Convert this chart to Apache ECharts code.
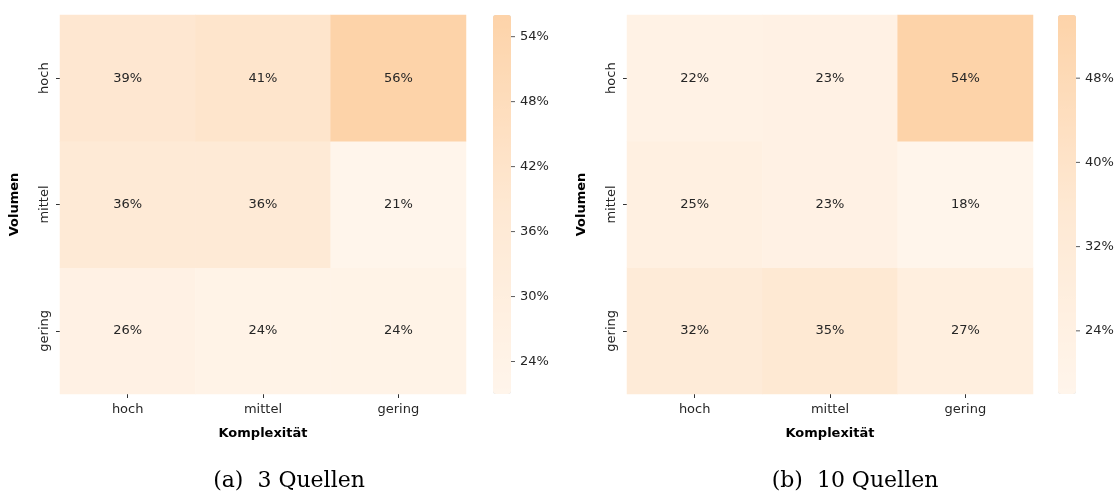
<!DOCTYPE html>
<html>
<head>
<meta charset="utf-8">
<script src="https://cdn.jsdelivr.net/npm/echarts@6/dist/echarts.min.js"></script>
<style>
  html, body { margin: 0; padding: 0; background: #fff; }
  #chart { width: 1120px; height: 491px; }
</style>
</head>
<body>
<div id="chart"></div>
<script>
// Categories (Komplexität on x, Volumen on y, listed bottom to top)
const komplexitaet = ['hoch', 'mittel', 'gering'];
const volumen = ['gering', 'mittel', 'hoch'];

// Share in percent, one row per Volumen level (hoch, mittel, gering), columns = Komplexität
const quellen3 = {
  hoch:   [39, 41, 56],
  mittel: [36, 36, 21],
  gering: [26, 24, 24]
};
const quellen10 = {
  hoch:   [22, 23, 54],
  mittel: [25, 23, 18],
  gering: [32, 35, 27]
};

// Colour bar ticks
const ticks3 = [24, 30, 36, 42, 48, 54];
const ticks10 = [24, 32, 40, 48];

const captions = ['(a)  3 Quellen', '(b)  10 Quellen'];

const palette = ['#fff5eb', '#fee8d2', '#fdd3a9'];
const font = 'DejaVu Sans';
const txt = '#262626';

function toCells(tbl) {
  const out = [];
  volumen.forEach((v, yi) => {
    tbl[v].forEach((val, xi) => out.push([xi, yi, val]));
  });
  return out;
}
function extent(tbl) {
  const all = [].concat(tbl.hoch, tbl.mittel, tbl.gering);
  return [Math.min.apply(null, all), Math.max.apply(null, all)];
}

const panels = [
  { data: quellen3, ticks: ticks3, left: 60, barLeft: 493, captionX: 284 },
  { data: quellen10, ticks: ticks10, left: 627, barLeft: 1058, captionX: 850 }
];
const plotTop = 15, plotH = 379, plotW = 406, barW = 18;

const option = {
  backgroundColor: '#fff',
  animation: false,
  textStyle: { fontFamily: font },
  grid: [],
  xAxis: [],
  yAxis: [],
  visualMap: [],
  series: [],
  title: []
};

panels.forEach((p, i) => {
  const ext = extent(p.data);
  // heatmap grid
  option.grid.push({ left: p.left, top: plotTop, width: plotW, height: plotH });
  option.xAxis.push({
    type: 'category', gridIndex: 2 * i, data: komplexitaet,
    name: 'Komplexität', nameLocation: 'middle', nameGap: 33,
    nameTextStyle: { fontWeight: 'bold', fontSize: 13, color: '#000', fontFamily: font },
    axisLine: { show: false },
    axisTick: { show: true, alignWithLabel: true, length: 4, lineStyle: { color: '#333' } },
    axisLabel: { fontSize: 13, color: txt, margin: 9, fontFamily: font },
    splitLine: { show: false }
  });
  option.yAxis.push({
    type: 'category', gridIndex: 2 * i, data: volumen,
    name: 'Volumen', nameLocation: 'middle', nameGap: 39, nameRotate: 90,
    nameTextStyle: { fontWeight: 'bold', fontSize: 13, color: '#000', fontFamily: font },
    axisLine: { show: false },
    axisTick: { show: true, alignWithLabel: true, length: 4, lineStyle: { color: '#333' } },
    axisLabel: { fontSize: 13, color: txt, rotate: 90, margin: 9, fontFamily: font },
    splitLine: { show: false }
  });
  option.visualMap.push({
    type: 'continuous', seriesIndex: 2 * i, min: ext[0], max: ext[1],
    calculable: false, realtime: false,
    orient: 'vertical', left: p.barLeft, top: plotTop, padding: 0,
    itemWidth: barW, itemHeight: plotH,
    text: null, showLabel: false, hoverLink: false,
    inRange: { color: palette }
  });
  option.series.push({
    type: 'heatmap', xAxisIndex: 2 * i, yAxisIndex: 2 * i,
    data: toCells(p.data),
    label: {
      show: true, formatter: d => d.value[2] + '%',
      fontSize: 13, color: txt, fontFamily: font
    },
    itemStyle: { borderWidth: 0 },
    emphasis: { disabled: true }
  });
  // colour bar scale: an axis spanning the value range, labels on the right
  option.grid.push({ left: p.barLeft, top: plotTop, width: barW, height: plotH });
  option.xAxis.push({ type: 'value', gridIndex: 2 * i + 1, show: false, min: 0, max: 1 });
  option.yAxis.push({
    type: 'value', gridIndex: 2 * i + 1, position: 'right',
    min: ext[0], max: ext[1],
    axisLine: { show: false },
    splitLine: { show: false },
    axisTick: { show: false },
    axisLabel: {
      show: true, customValues: p.ticks, formatter: v => v + '%',
      fontSize: 13, color: txt, margin: 9, fontFamily: font
    }
  });
  // small tick dashes at the right edge of the colour bar
  option.series.push({
    type: 'scatter', xAxisIndex: 2 * i + 1, yAxisIndex: 2 * i + 1,
    data: p.ticks.map(t => [1, t]),
    symbol: 'rect', symbolSize: [4, 1], symbolOffset: [2, 0],
    itemStyle: { color: '#333' },
    clip: false, silent: true, z: 5
  });
  option.title.push({
    text: captions[i], left: p.captionX, top: 465, textAlign: 'center',
    textStyle: { fontFamily: 'DejaVu Serif', fontWeight: 'normal', fontSize: 22, color: '#000' }
  });
});

const chart = echarts.init(document.getElementById('chart'), null, { renderer: 'canvas' });
chart.setOption(option);
</script>
</body>
</html>
